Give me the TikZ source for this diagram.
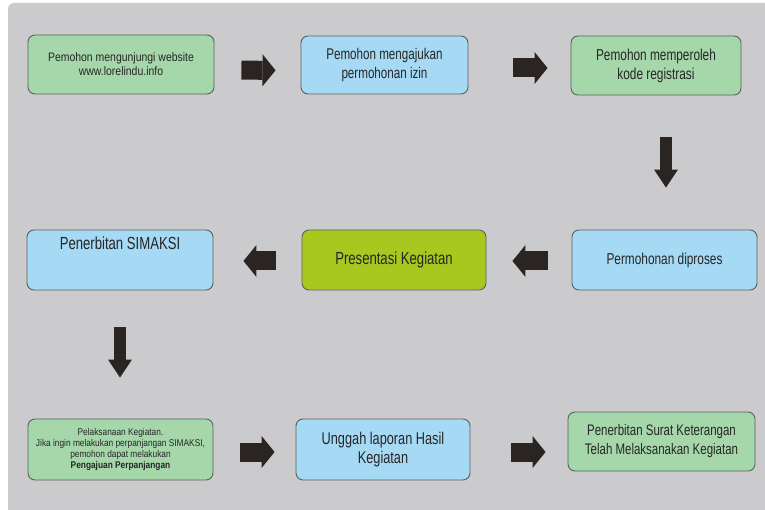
\documentclass[tikz,border=0pt]{standalone}
\usepackage{fontspec}
\setmainfont{Liberation Sans}[FakeStretch=0.85]
\newfontfamily\narrowfont{Liberation Sans}[FakeStretch=0.75]
\usetikzlibrary{arrows.meta}
\definecolor{bggray}{RGB}{203,203,205}
\definecolor{boxgreen}{RGB}{166,215,170}
\definecolor{boxblue}{RGB}{165,217,244}
\definecolor{boxlime}{RGB}{168,200,32}
\definecolor{edgegray}{RGB}{88,98,94}
\definecolor{arrowdark}{RGB}{42,37,35}
\definecolor{txt}{RGB}{38,38,38}
\tikzset{
  flowbox/.style={draw=edgegray, line width=0.9pt, rounded corners=7pt, inner sep=2pt, align=center, text=txt, anchor=center},
  greenbox/.style={flowbox, fill=boxgreen},
  bluebox/.style={flowbox, fill=boxblue},
  limebox/.style={flowbox, fill=boxlime},
  harrow/.style={draw=arrowdark, line width=19pt, line cap=butt, -{Triangle[width=32pt,length=13pt,line width=0pt]}},
  varrow/.style={draw=arrowdark, line width=12.5pt, line cap=butt, -{Triangle[width=24pt,length=18pt,line width=0pt]}}
}
\begin{document}
\begin{tikzpicture}[x=1pt,y=-1pt]
\useasboundingbox (0,0) rectangle (765,510);
\fill[white] (0,0) rectangle (765,510);
\fill[bggray, rounded corners=6pt] (8,3) rectangle (790,530);
% row 1
\node[greenbox, minimum width=186pt, minimum height=59pt, font=\fontsize{12.3}{14}\selectfont] (b1) at (121,64.5) {Pemohon mengunjungi website\\www.lorelindu.info};
\node[bluebox, minimum width=167pt, minimum height=58pt, font=\narrowfont\fontsize{15.5}{19}\selectfont] (b2) at (384.5,65) {Pemohon mengajukan\\permohonan izin};
\node[greenbox, minimum width=170pt, minimum height=59pt, font=\narrowfont\fontsize{15.8}{19}\selectfont] (b3) at (656,65.5) {Pemohon memperoleh\\kode registrasi};
% row 2
\node[bluebox, minimum width=186pt, minimum height=60pt, font=\narrowfont\fontsize{17.5}{19}\selectfont, text depth=33pt] (b4) at (120,260) {Penerbitan SIMAKSI};
\node[limebox, minimum width=184pt, minimum height=60pt, font=\narrowfont\fontsize{17.5}{19}\selectfont] (b5) at (394,260) {Presentasi Kegiatan};
\node[bluebox, minimum width=185pt, minimum height=60pt, font=\narrowfont\fontsize{15.8}{19}\selectfont] (b6) at (664.5,260) {Permohonan diproses};
% row 3
\node[greenbox, minimum width=185pt, minimum height=61pt, font=\fontsize{9.8}{11.3}\selectfont] (b7) at (120.5,449.5) {Pelaksanaan Kegiatan.\\Jika ingin melakukan perpanjangan SIMAKSI,\\pemohon dapat melakukan\\\textbf{Pengajuan Perpanjangan}};
\node[bluebox, minimum width=174pt, minimum height=61pt, font=\narrowfont\fontsize{17}{19}\selectfont] (b8) at (383,449.5) {Unggah laporan Hasil\\Kegiatan};
\node[greenbox, minimum width=187pt, minimum height=59pt, font=\narrowfont\fontsize{15.3}{19}\selectfont] (b9) at (661.5,441.5) {Penerbitan Surat Keterangan\\Telah Melaksanakan Kegiatan};
% arrows
\draw[harrow, shorten <=27pt, shorten >=25pt] ([yshift=-5.5pt]b1.east) -- ([yshift=-5.5pt]b2.west);
\draw[harrow, shorten <=45pt, shorten >=23pt] ([yshift=-3pt]b2.east) -- ([yshift=-3pt]b2.east -| b3.west);
\draw[varrow, shorten <=42pt, shorten >=42pt] ([xshift=10pt]b3.south) -- ([xshift=10pt]b3.south |- b6.north);
\draw[harrow, shorten <=24pt, shorten >=26pt] ([yshift=-1pt]b6.west) -- ([yshift=-1pt]b5.east);
\draw[harrow, shorten <=26pt, shorten >=30pt] ([yshift=-1pt]b5.west) -- ([yshift=-1pt]b4.east);
\draw[varrow, shorten <=37pt, shorten >=41pt] (b4.south) -- (b4.south |- b7.north);
\draw[harrow, shorten <=27pt, shorten >=21pt] ([yshift=-2.5pt]b7.east) -- ([yshift=-2.5pt]b8.west);
\draw[harrow, shorten <=41pt, shorten >=22pt] ([yshift=-2.5pt]b8.east) -- ([yshift=-2.5pt]b8.east -| b9.west);
\end{tikzpicture}
\end{document}
